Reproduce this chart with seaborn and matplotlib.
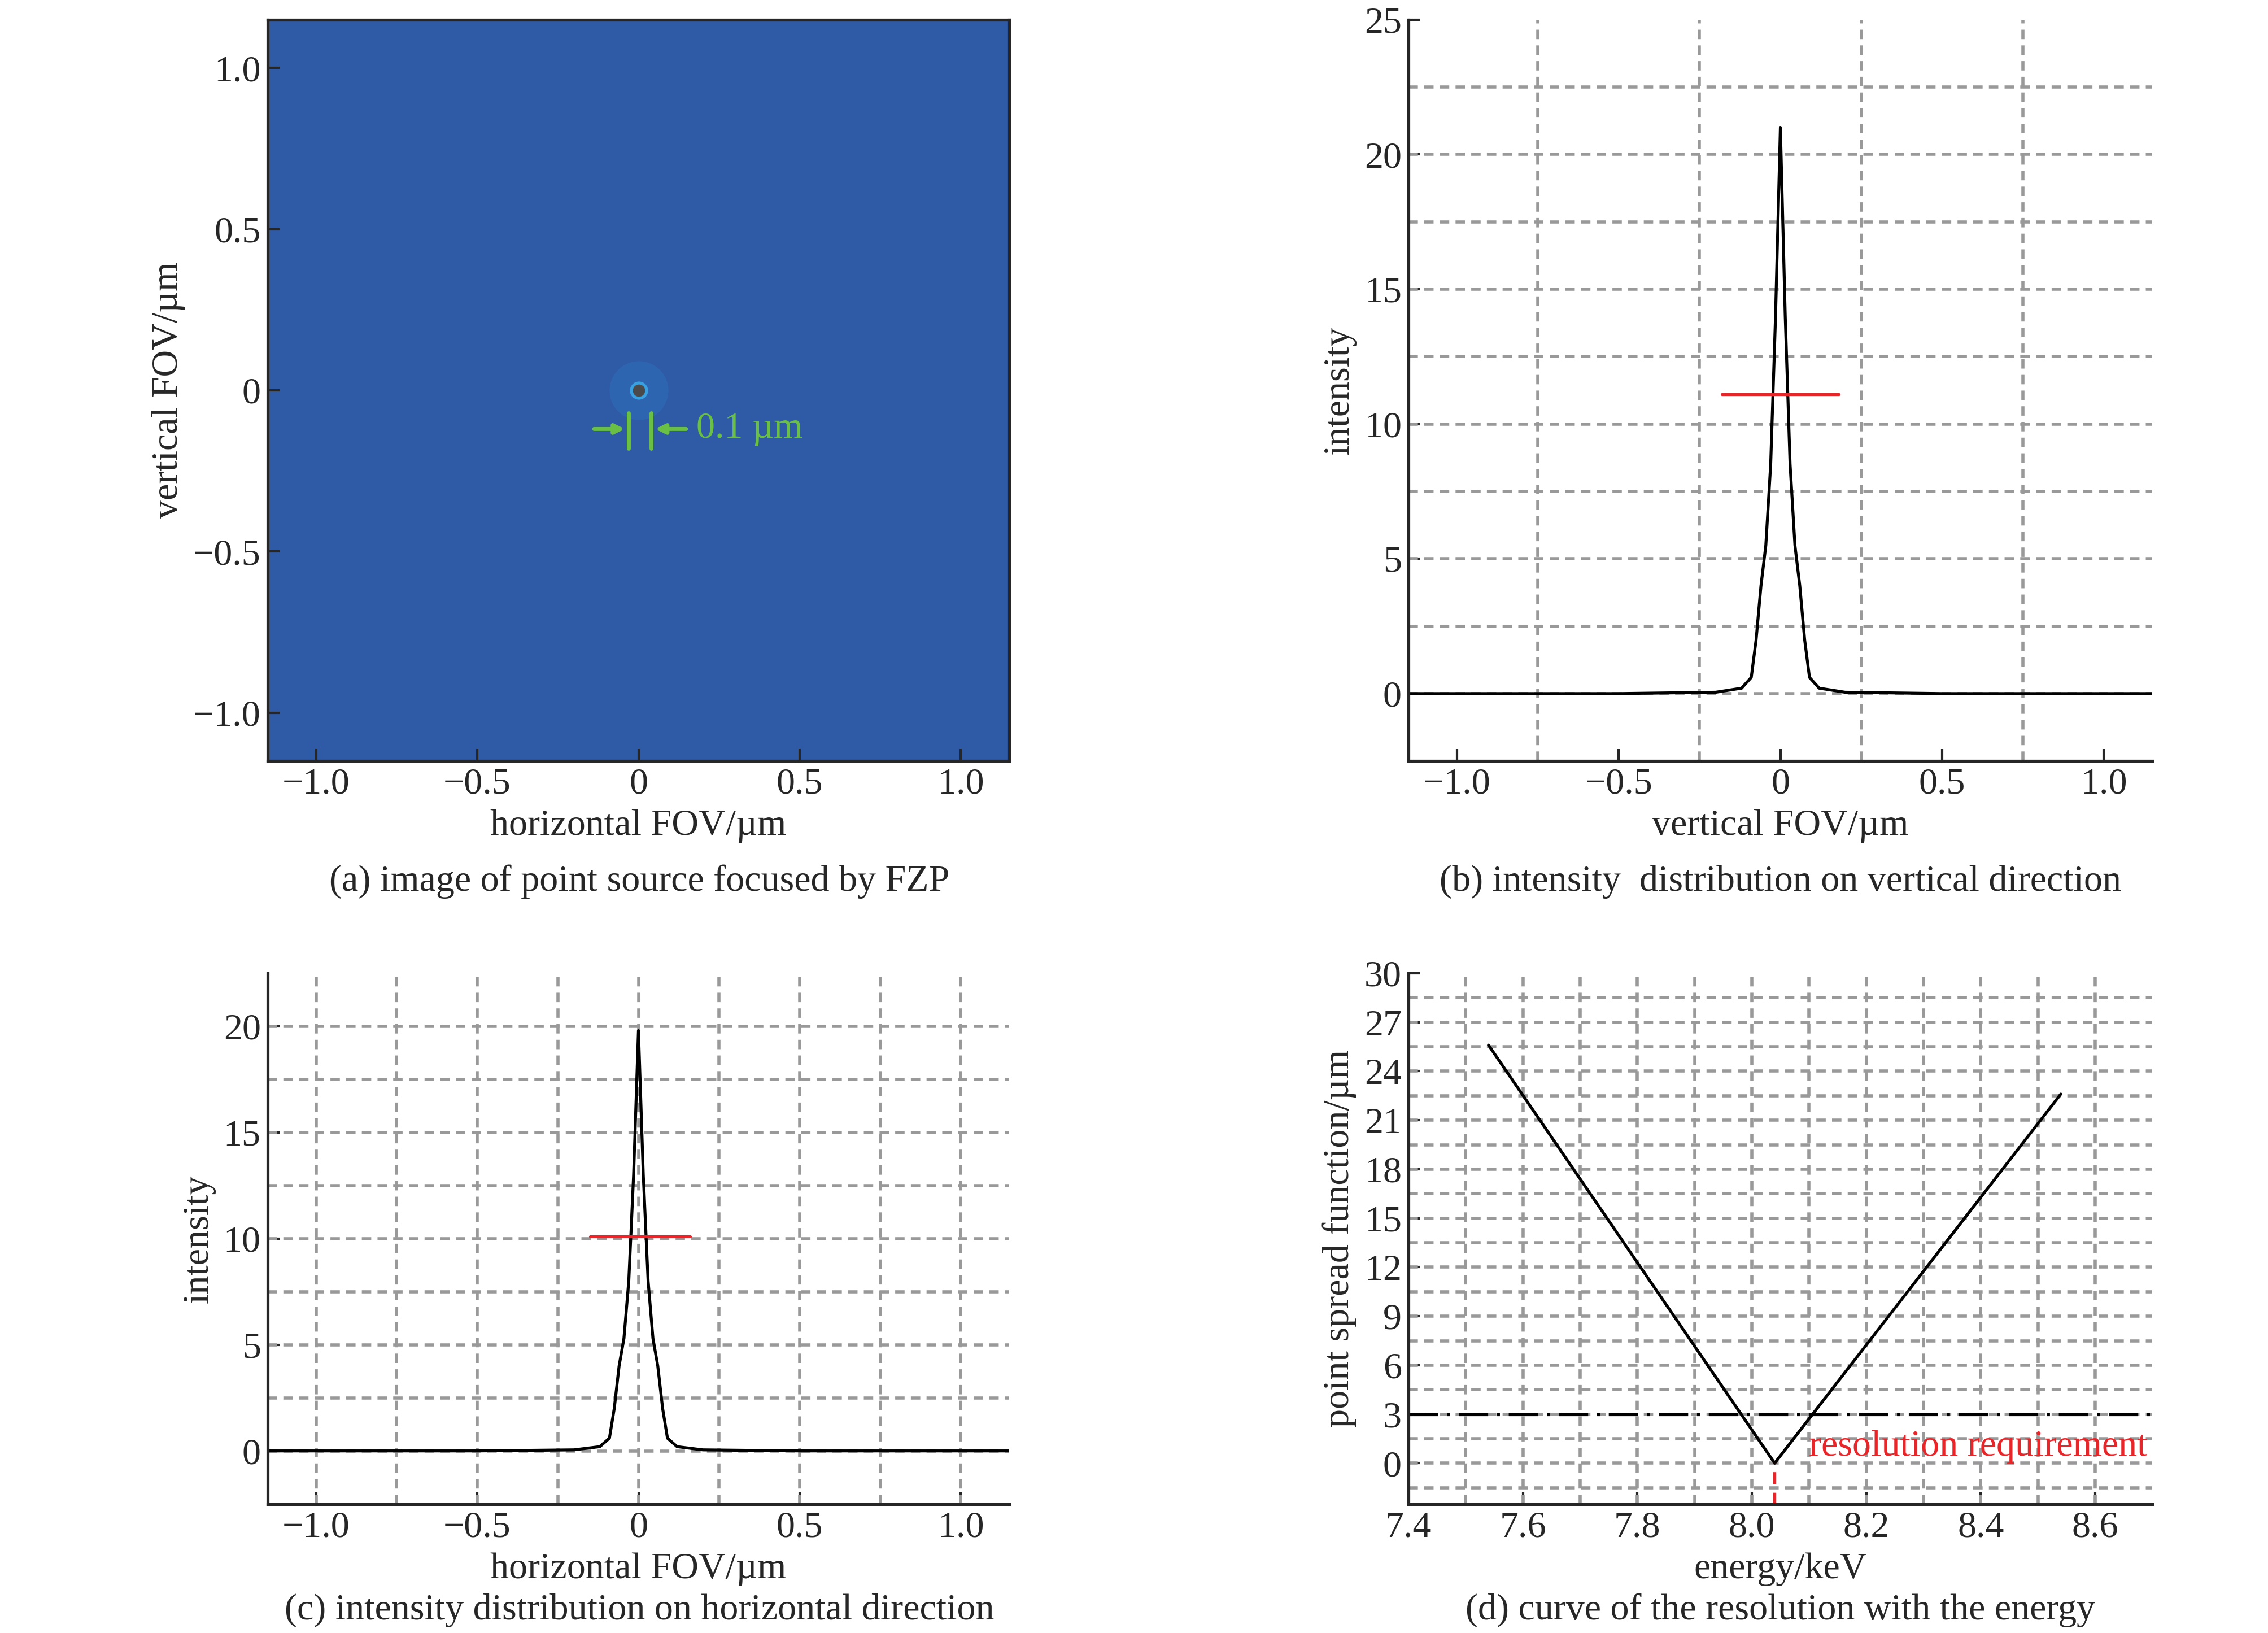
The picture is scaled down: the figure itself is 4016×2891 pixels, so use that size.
import matplotlib
matplotlib.use("Agg")
import matplotlib.pyplot as plt
import seaborn as sns
import pandas as pd

sns.set_style("white")
plt.rcParams['font.family'] = ['Liberation Serif', 'DejaVu Serif']
plt.rcParams['axes.unicode_minus'] = True
plt.rcParams['mathtext.fontset'] = 'stix'

# PSF profile, vertical direction (b)
v_x = [-1.15, -0.5, -0.2, -0.12, -0.09, -0.075, -0.06, -0.045, -0.03, -0.015, 0.0,
       0.015, 0.03, 0.045, 0.06, 0.075, 0.09, 0.12, 0.2, 0.5, 1.15]
v_y = [0.0, 0.0, 0.05, 0.2, 0.6, 2.0, 4.0, 5.5, 8.5, 14.0, 21.0,
       14.0, 8.5, 5.5, 4.0, 2.0, 0.6, 0.2, 0.05, 0.0, 0.0]
# PSF profile, horizontal direction (c)
h_x = v_x
h_y = [0.0, 0.0, 0.05, 0.2, 0.6, 2.0, 4.0, 5.3, 8.0, 13.0, 19.8,
       13.0, 8.0, 5.3, 4.0, 2.0, 0.6, 0.2, 0.05, 0.0, 0.0]
# resolution vs energy (d)
energy = [7.54, 8.04, 8.54]
psf = [25.6, 0.0, 22.6]

fov_ticks = [-1.0, -0.5, 0.0, 0.5, 1.0]
fov_labels = ['\u22121.0', '\u22120.5', '0', '0.5', '1.0']

FS = 19
GRID = dict(color='#999999', linestyle=(0, (3, 2)), linewidth=1.6)

fig = plt.figure(figsize=(16.064, 11.564), dpi=250)
ax_a = fig.add_axes([0.118, 0.534, 0.327, 0.454])
ax_b = fig.add_axes([0.621, 0.534, 0.328, 0.454])
ax_c = fig.add_axes([0.118, 0.079, 0.327, 0.325])
ax_d = fig.add_axes([0.621, 0.079, 0.328, 0.325])

# (a) image of the focused spot
ax_a.set_facecolor('#2e5aa6')
ax_a.scatter([0], [0], s=900, color='#2f68b5', alpha=0.8, linewidths=0)
ax_a.scatter([0], [0], s=60, color='#4a4a4a', edgecolors='#3aa0e0', linewidths=1.5)
ax_a.set_xlim(-1.15, 1.15)
ax_a.set_ylim(-1.15, 1.15)
green = '#6abf45'
ax_a.plot([-0.03, -0.03], [-0.07, -0.18], color=green, lw=2)
ax_a.plot([0.04, 0.04], [-0.07, -0.18], color=green, lw=2)
ax_a.annotate('', xy=(-0.03, -0.12), xytext=(-0.15, -0.12),
              arrowprops=dict(arrowstyle='-|>', color=green, lw=2))
ax_a.annotate('', xy=(0.04, -0.12), xytext=(0.16, -0.12),
              arrowprops=dict(arrowstyle='-|>', color=green, lw=2))
ax_a.text(0.18, -0.12, '0.1 \u00b5m', color=green, fontsize=FS, va='center')
ax_a.set_xticks(fov_ticks, fov_labels)
ax_a.set_yticks(fov_ticks, fov_labels)
ax_a.set_xlabel('horizontal FOV/\u00b5m', fontsize=FS)
ax_a.set_ylabel('vertical FOV/\u00b5m', fontsize=FS)
for s in ax_a.spines.values():
    s.set_linewidth(1.5)

# (b) vertical profile
for x in [-0.75, -0.25, 0.25, 0.75]:
    ax_b.axvline(x, **GRID)
for y in [0, 2.5, 5, 7.5, 10, 12.5, 15, 17.5, 20, 22.5]:
    ax_b.axhline(y, **GRID)
sns.lineplot(x=v_x, y=v_y, ax=ax_b, color='black', lw=1.5)
ax_b.plot([-0.18, 0.18], [11.1, 11.1], color='#e8262a', lw=1.5)
ax_b.set_xlim(-1.15, 1.15)
ax_b.set_ylim(-2.5, 25)
ax_b.set_xticks(fov_ticks, fov_labels)
ax_b.set_yticks([0, 5, 10, 15, 20, 25])
ax_b.set_xlabel('vertical FOV/\u00b5m', fontsize=FS)
ax_b.set_ylabel('intensity', fontsize=FS)

# (c) horizontal profile
for x in [-1.0, -0.75, -0.5, -0.25, 0, 0.25, 0.5, 0.75, 1.0]:
    ax_c.axvline(x, **GRID)
for y in [0, 2.5, 5, 7.5, 10, 12.5, 15, 17.5, 20]:
    ax_c.axhline(y, **GRID)
sns.lineplot(x=h_x, y=h_y, ax=ax_c, color='black', lw=1.5)
ax_c.plot([-0.15, 0.16], [10.1, 10.1], color='#e8262a', lw=1.5)
ax_c.set_xlim(-1.15, 1.15)
ax_c.set_ylim(-2.5, 22.5)
ax_c.set_xticks(fov_ticks, fov_labels)
ax_c.set_yticks([0, 5, 10, 15, 20])
ax_c.set_xlabel('horizontal FOV/\u00b5m', fontsize=FS)
ax_c.set_ylabel('intensity', fontsize=FS)

# (d) resolution vs energy
for i in range(1, 13):
    ax_d.axvline(7.4 + 0.1 * i, **GRID)
for i in range(-1, 20):
    ax_d.axhline(1.5 * i, **GRID)
ax_d.axhline(3, color='black', lw=1.5, linestyle=(0, (10, 3, 1, 3)))
sns.lineplot(x=energy, y=psf, ax=ax_d, color='black', lw=1.5)
ax_d.plot([8.04, 8.04], [-2.5, 0], color='#e8262a', lw=1.5, linestyle=(0, (4, 3)))
ax_d.text(8.1, 1.0, 'resolution requirement', color='#e8262a', fontsize=FS, va='center')
ax_d.set_xlim(7.4, 8.7)
ax_d.set_ylim(-2.5, 30)
ax_d.set_xticks([7.4, 7.6, 7.8, 8.0, 8.2, 8.4, 8.6])
ax_d.set_xticklabels(['7.4', '7.6', '7.8', '8.0', '8.2', '8.4', '8.6'])
ax_d.set_yticks(list(range(0, 31, 3)))
ax_d.set_xlabel('energy/keV', fontsize=FS)
ax_d.set_ylabel('point spread function/\u00b5m', fontsize=FS)

for ax in [ax_b, ax_c, ax_d]:
    sns.despine(ax=ax)
    ax.spines['left'].set_linewidth(1.5)
    ax.spines['bottom'].set_linewidth(1.5)
for ax in [ax_a, ax_b, ax_c, ax_d]:
    ax.tick_params(direction='in', labelsize=FS, length=6, width=1.2,
                   bottom=True, left=True)

fig.text(0.282, 0.460, '(a) image of point source focused by FZP', fontsize=FS, ha='center', va='center')
fig.text(0.785, 0.460, '(b) intensity  distribution on vertical direction', fontsize=FS, ha='center', va='center')
fig.text(0.282, 0.014, '(c) intensity distribution on horizontal direction', fontsize=FS, ha='center', va='center')
fig.text(0.785, 0.014, '(d) curve of the resolution with the energy', fontsize=FS, ha='center', va='center')

fig.savefig('out.png', dpi=250, facecolor='white')
